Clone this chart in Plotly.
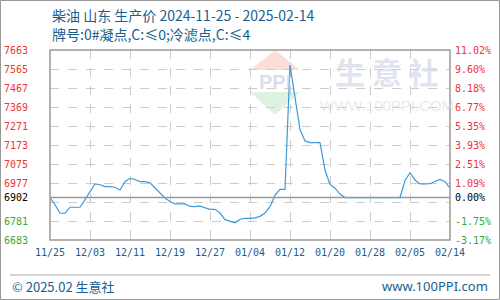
import plotly.graph_objects as go

# ---- data ----
x_labels = ["11/25", "12/03", "12/11", "12/19", "12/27", "01/04",
            "01/12", "01/20", "01/28", "02/05", "02/14"]
prices = [6902, 6865, 6821, 6821, 6852, 6852, 6852, 6891, 6930, 6972,
          6968, 6958, 6958, 6955, 6941, 6984, 7001, 6995, 6984, 6984,
          6978, 6951, 6925, 6900, 6882, 6869, 6869, 6869, 6856, 6855,
          6858, 6850, 6841, 6841, 6822, 6788, 6781, 6772, 6790, 6795,
          6795, 6797, 6805, 6822, 6855, 6915, 6944, 6944, 7585, 7428,
          7253, 7194, 7185, 7185, 7185, 7044, 6970, 6950, 6920, 6902,
          6902, 6902, 6902, 6902, 6902, 6902, 6902, 6902, 6902, 6902,
          6902, 6990, 7030, 6992, 6972, 6972, 6973, 6985, 6995, 6984,
          6950]
base_price = 6902
y_ticks = [7663, 7565, 7467, 7369, 7271, 7173, 7075, 6977, 6902, 6879, 6781, 6683]
pct_labels = ["11.02%", "9.60%", "8.18%", "6.77%", "5.35%", "3.93%", "2.51%",
              "1.09%", "0.00%", "", "-1.75%", "-3.17%"]
title1 = "柴油 山东 生产价 2024-11-25 - 2025-02-14"
title2 = "牌号:0#凝点,C:≤0;冷滤点,C:≤4"

RED = "#ee3333"
GREEN = "#33aa33"
BLUE = "#1a5e8f"
days = list(range(len(prices)))
x_tickvals = [i * 8 for i in range(len(x_labels) - 1)] + [days[-1]]


def color_of(v):
    if v > base_price:
        return RED
    if v < base_price:
        return GREEN
    return "#000000"


left_text, right_text = [], []
for v, p in zip(y_ticks, pct_labels):
    if p == "":
        left_text.append("")
        right_text.append("")
        continue
    c = color_of(v)
    left_text.append(f'<span style="color:{c}">{v}</span>')
    right_text.append(f'<span style="color:{c}">{p}</span>')

fig = go.Figure()
fig.add_trace(go.Scatter(x=days, y=prices, mode="lines",
                         line=dict(color="#3d9ad8", width=1.2),
                         hoverinfo="skip", showlegend=False))
fig.add_trace(go.Scatter(x=days, y=prices, mode="lines", yaxis="y2",
                         line=dict(color="rgba(0,0,0,0)", width=0),
                         hoverinfo="skip", showlegend=False))

mono = "DejaVu Sans Mono"
fig.update_layout(
    width=500, height=300,
    margin=dict(l=50, r=50, t=50, b=60, autoexpand=False),
    paper_bgcolor="white", plot_bgcolor="white",
    xaxis=dict(range=[0, days[-1]], tickvals=x_tickvals, ticktext=x_labels,
               showgrid=True, gridcolor="#cccccc", griddash="dash", gridwidth=1,
               zeroline=False, showline=False, ticks="", automargin=False,
               tickfont=dict(family=mono, size=10, color=BLUE),
               ticklabelstandoff=5),
    yaxis=dict(range=[6683, 7663], tickvals=y_ticks, ticktext=left_text,
               showgrid=True, gridcolor="#cccccc", griddash="dash", gridwidth=1,
               zeroline=False, showline=False, ticks="", automargin=False,
               tickfont=dict(family=mono, size=10), ticklabelstandoff=21),
    yaxis2=dict(range=[6683, 7663], tickvals=y_ticks, ticktext=right_text,
                overlaying="y", side="right", showgrid=False, zeroline=False,
                showline=False, ticks="", automargin=False,
                tickfont=dict(family=mono, size=10), ticklabelstandoff=4),
)


def px(xp, yp):
    return (xp - 50) / 400, (240 - yp) / 190


def tri(p1, p2, p3):
    pts = [px(*p) for p in (p1, p2, p3)]
    return "M {} {} L {} {} L {} {} Z".format(*[c for pt in pts for c in pt])


fy = px(0, 275)[1]
shapes = [
    dict(type="line", xref="paper", yref="y", x0=0, x1=1, y0=base_price, y1=base_price,
         line=dict(color="#999999", width=1.5), layer="above"),
    dict(type="rect", xref="paper", yref="paper", x0=0, x1=1, y0=0, y1=1,
         line=dict(color="#999999", width=1.5), layer="above"),
    dict(type="line", xref="paper", yref="paper", x0=px(10, 0)[0], x1=px(490, 0)[0],
         y0=fy, y1=fy, line=dict(color="#aaaaaa", width=1)),
    dict(type="rect", xref="paper", yref="paper", x0=px(0.5, 0)[0], x1=px(499.5, 0)[0],
         y0=px(0, 299.5)[1], y1=px(0, 0.5)[1], line=dict(color="#999999", width=1)),
    dict(type="path", xref="paper", yref="paper", layer="below",
         path=tri((250, 70), (300, 70), (275, 50)),
         fillcolor="rgba(240,160,150,0.35)", line=dict(width=0)),
    dict(type="path", xref="paper", yref="paper", layer="below",
         path=tri((250, 92), (300, 92), (275, 115)),
         fillcolor="rgba(150,210,150,0.3)", line=dict(width=0)),
]
fig.update_layout(shapes=shapes)


def ann(xp, yp, text, family, size, color, anchor="center"):
    tx, ty = px(xp, yp)
    return dict(x=tx, y=ty, xref="paper", yref="paper", text=text, showarrow=False,
                xanchor=anchor, yanchor="middle",
                font=dict(family=family, size=size, color=color))


cjk = "Noto Sans CJK SC"
anns = [
    ann(50, 15, title1, cjk, 14, BLUE, "left"),
    ann(50, 34, title2, cjk, 14, BLUE, "left"),
    ann(10, 286, "© 2025.02 生意社", cjk, 13, BLUE, "left"),
    ann(490, 286, "www.100PPI.com", "Noto Sans", 13, BLUE, "right"),
    ann(275, 82, "<b>PPI</b>", "Liberation Sans", 20, "rgba(190,200,225,0.6)"),
    ann(387, 71, "<b>生 意 社</b>", cjk, 30, "rgba(205,212,228,0.65)"),
    ann(387, 105, "WWW.100PPI.COM", "Liberation Sans", 15, "rgba(215,220,230,0.6)"),
]
fig.update_layout(annotations=anns)

fig.write_html("out.html")
